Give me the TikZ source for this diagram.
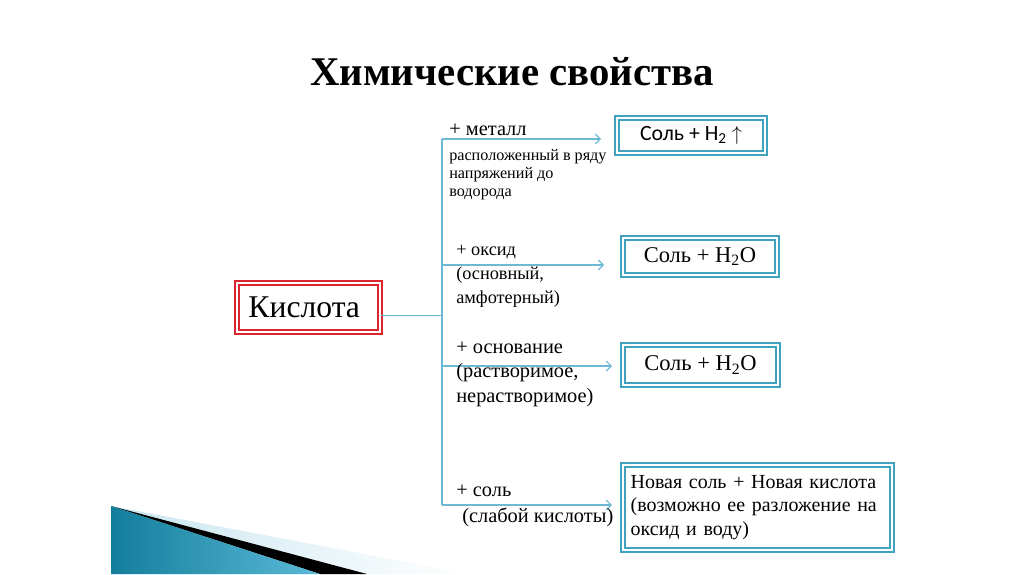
\documentclass[tikz,border=0pt]{standalone}
\usepackage{fontspec}
\setmainfont{Liberation Serif}
\newfontfamily\calib{Carlito}
\usetikzlibrary{positioning,arrows.meta}
\definecolor{boxc}{HTML}{3FA3BF}
\definecolor{linec}{HTML}{6DB8D2}
\definecolor{redc}{HTML}{D9262F}
\definecolor{tealdk}{HTML}{137E9C}
\definecolor{teallt}{HTML}{5BBAD8}
\definecolor{skyc}{HTML}{C9E6F0}

\begin{document}
\begin{tikzpicture}[x=0.025cm, y=-0.025cm, >={Straight Barb[length=3.5pt,width=7pt]},
  res/.style={draw=boxc, line width=1.3pt, double=white, double distance=1.2pt,
              fill=white, inner sep=2pt},
  acid/.style={draw=redc, line width=1.4pt, double=white, double distance=1.1pt,
               fill=white},
  link/.style={draw=linec, line width=0.8pt},
  lbl/.style={anchor=base west, inner sep=0pt, align=left}]
  \useasboundingbox (0,0) rectangle (1024,574);
  % corner decoration
  \shade[left color=skyc, right color=white] (111,506) -- (470,574) -- (111,574) -- cycle;
  \fill[black] (111,506) -- (367,574) -- (320,574) -- cycle;
  \shade[left color=tealdk, right color=teallt] (111,506) -- (320,574) -- (111,574) -- cycle;

  \node[font=\bfseries\fontsize{29}{31}\selectfont] (title) at (512,72) {Химические свойства};

  \node[acid, minimum width=3.575cm, minimum height=1.225cm, text width=3cm, align=left,
        font=\fontsize{22.5}{24}\selectfont] (kislota) at (308.5,307.5) {Кислота};

  \node[res, minimum width=3.7cm, minimum height=0.875cm,
        font=\calib\fontsize{15.5}{18}\selectfont] (r1) at (691,135.5) {Соль + H\textsubscript{2} $\uparrow$};
  \node[res, minimum width=3.85cm, minimum height=0.925cm,
        font=\fontsize{16}{18}\selectfont] (r2) at (700,256.5) {Соль + H\textsubscript{2}O};
  \node[res, minimum width=3.875cm, minimum height=1cm,
        font=\fontsize{16}{18}\selectfont] (r3) at (700.5,365) {Соль + H\textsubscript{2}O};
  \node[res, minimum width=6.725cm, minimum height=2.125cm, text width=6.34cm, align=left,
        font=\fontsize{14.2}{16.7}\selectfont] (r4) at (757.5,507.5)
        {Новая соль + Новая кислота\\(возможно ее разложение на\\оксид и воду)};

  \coordinate (t1) at (442,139);
  \coordinate (t2) at (442,265);
  \coordinate (t3) at (442,366);
  \coordinate (t4) at (442,505);
  \coordinate (a1) at (601,139);
  \coordinate (a2) at (604,265);
  \coordinate (a3) at (612,366);
  \coordinate (a4) at (612,505);

  \draw[link] ([yshift=-0.19cm]kislota.east) -- ([yshift=-0.19cm]kislota.east -| t1);
  \draw[link] (t1) -- (t4);
  \foreach \i in {1,...,4}
    \draw[link,->] (t\i) -- (a\i);

  % labels: base = baseline of the last line
  \node[lbl, font=\fontsize{14.5}{16}\selectfont] (metal) at (449,135) {+ металл};
  \node[lbl, font=\fontsize{11.5}{12.8}\selectfont] (metalx) at (449,196)
        {расположенный в ряду\\напряжений до\\водорода};
  \node[lbl, font=\fontsize{13}{16.8}\selectfont] (oxide) at (456,303)
        {+ оксид\\(основный,\\амфотерный)};
  \node[lbl, font=\fontsize{14.5}{17.4}\selectfont] (base) at (456,402)
        {+ основание\\(растворимое,\\нерастворимое)};
  \node[lbl, font=\fontsize{14.5}{17.8}\selectfont] (salt) at (456,522)
        {+ соль\\\hspace*{0.15cm}(слабой кислоты)};
\end{tikzpicture}
\end{document}
